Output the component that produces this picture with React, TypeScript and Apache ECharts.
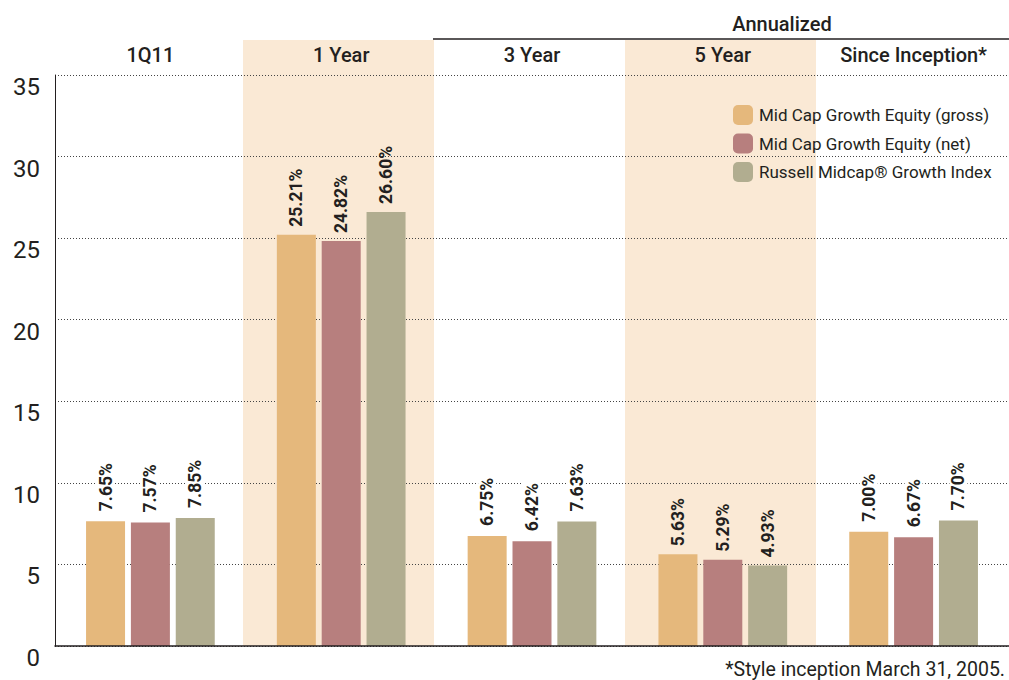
import React, { useEffect, useRef } from 'react';
import * as echarts from 'echarts';

const categories = ['1Q11', '1 Year', '3 Year', '5 Year', 'Since Inception*'];
const seriesNames = [
  'Mid Cap Growth Equity (gross)',
  'Mid Cap Growth Equity (net)',
  'Russell Midcap® Growth Index',
];
const grossValues = [7.65, 25.21, 6.75, 5.63, 7.0];
const netValues = [7.57, 24.82, 6.42, 5.29, 6.67];
const indexValues = [7.85, 26.6, 7.63, 4.93, 7.7];
const shadedColumns = [0, 1, 0, 1, 0];
const yMin = 0;
const yMax = 35;
const yStep = 5;
const groupTitle = 'Annualized';
const footnote = '*Style inception March 31, 2005.';

const colors = ['#E5B87C', '#B77F7E', '#B1AD90'];
const TEXT = '#231F20';
const BAND = '#FAE9D5';
const FONT = 'Roboto, "Liberation Sans", Arial, sans-serif';

export default function App() {
  const ref = useRef<HTMLDivElement>(null);
  useEffect(() => {
    if (!ref.current) return;
    const chart = echarts.init(ref.current, null, { renderer: 'svg' });
    const allValues = [grossValues, netValues, indexValues];
    const barSeries = allValues.map((vals, si) => ({
      name: seriesNames[si],
      type: 'bar',
      xAxisIndex: 0,
      yAxisIndex: 0,
      barWidth: 39,
      barGap: '15%',
      z: 3,
      itemStyle: { color: colors[si] },
      label: {
        show: true,
        position: 'top',
        rotate: 90,
        align: 'left',
        verticalAlign: 'middle',
        distance: 8,
        fontFamily: FONT,
        fontWeight: 'bold',
        fontSize: 17.5,
        color: TEXT,
        formatter: (p: any) => Number(p.value).toFixed(2) + '%',
      },
      data: vals.map((v, i) => ({
        value: v,
        label: shadedColumns[i] ? {} : { backgroundColor: '#fff', padding: [0, 2] },
      })),
    }));

    chart.setOption({
      animation: false,
      legend: {
        data: seriesNames,
        orient: 'vertical',
        left: 733,
        top: 105,
        padding: 0,
        itemWidth: 20,
        itemHeight: 20,
        itemGap: 8.5,
        itemStyle: { borderWidth: 0 },
        textStyle: { fontFamily: FONT, fontSize: 17, color: TEXT, padding: [0, 0, 0, 1] },
        selectedMode: false,
      },
      grid: [
        { left: 55, right: 0, top: 75, bottom: 34 },
        { left: 52, right: 2, top: 40, bottom: 34 },
      ],
      xAxis: [
        {
          type: 'category',
          gridIndex: 0,
          data: categories,
          position: 'top',
          axisLine: { show: false },
          axisTick: { show: false },
          axisLabel: {
            fontFamily: FONT,
            fontWeight: 500,
            fontSize: 20,
            color: TEXT,
            margin: 10,
          },
        },
        {
          type: 'category',
          gridIndex: 0,
          data: categories,
          position: 'bottom',
          axisLine: { show: true, lineStyle: { color: TEXT, width: 1.5 } },
          axisTick: { show: false },
          axisLabel: { show: false },
          z: 4,
        },
        {
          type: 'category',
          gridIndex: 1,
          data: categories,
          show: false,
        },
      ],
      yAxis: [
        {
          type: 'value',
          gridIndex: 0,
          min: yMin,
          max: yMax,
          interval: yStep,
          z: 1,
          axisLine: { show: true, lineStyle: { color: TEXT, width: 1 } },
          axisTick: { show: false },
          axisLabel: {
            fontFamily: FONT,
            fontSize: 24,
            color: TEXT,
            margin: 15,
            verticalAlign: 'top',
          },
          splitLine: { show: true, lineStyle: { color: '#444', width: 1, type: [1, 2] } },
        },
        {
          type: 'value',
          gridIndex: 1,
          min: 0,
          max: 1,
          show: false,
          splitLine: { show: false },
        },
      ],
      graphic: [
        {
          type: 'line',
          shape: { x1: 433, y1: 39, x2: 1009, y2: 39 },
          style: { stroke: TEXT, lineWidth: 1.5 },
          z: 10,
        },
        {
          type: 'text',
          x: 782,
          y: 24,
          style: {
            text: groupTitle,
            fontFamily: FONT,
            fontWeight: 500,
            fontSize: 20,
            fill: TEXT,
            textAlign: 'center',
            textVerticalAlign: 'middle',
          },
        },
        {
          type: 'text',
          x: 1005,
          y: 679,
          style: {
            text: footnote,
            fontFamily: FONT,
            fontSize: 19.5,
            fill: TEXT,
            textAlign: 'right',
            textVerticalAlign: 'bottom',
          },
        },
      ],
      series: [
        {
          name: 'band',
          type: 'bar',
          xAxisIndex: 2,
          yAxisIndex: 1,
          barWidth: '100%',
          silent: true,
          z: 0,
          itemStyle: { color: BAND },
          data: shadedColumns,
        },
        ...barSeries,
      ],
    });
    return () => chart.dispose();
  }, []);
  return (
    <div
      ref={ref}
      style={{ position: 'absolute', left: 0, top: 0, width: 1009, height: 680 }}
    />
  );
}
